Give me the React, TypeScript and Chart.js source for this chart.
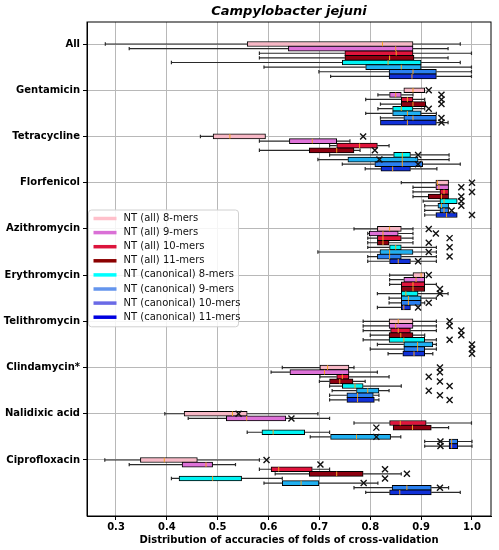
import React, { useEffect, useRef } from 'react';
import { Chart, registerables } from 'chart.js';

Chart.register(...registerables);

const categories = [
  'All', 'Gentamicin', 'Tetracycline', 'Florfenicol', 'Azithromycin',
  'Erythromycin', 'Telithromycin', 'Clindamycin*', 'Nalidixic acid', 'Ciprofloxacin',
];

const seriesNames = [
  'NT (all) 8-mers', 'NT (all) 9-mers', 'NT (all) 10-mers', 'NT (all) 11-mers',
  'NT (canonical) 8-mers', 'NT (canonical) 9-mers', 'NT (canonical) 10-mers', 'NT (canonical) 11-mers',
];

const xTickValues = [0.3, 0.4, 0.5, 0.6, 0.7, 0.8, 0.9, 1.0];

// rows: categories, columns: series
const whiskerLow = [
  [0.279, 0.326, 0.582, 0.582, 0.409, 0.591, 0.699, 0.722],
  [0.866, 0.815, 0.791, 0.820, 0.815, 0.791, 0.820, 0.820],
  [0.466, 0.582, 0.720, 0.582, 0.720, 0.697, 0.745, 0.790],
  [0.861, 0.884, 0.884, 0.884, 0.904, 0.907, 0.907, 0.907],
  [0.768, 0.795, 0.795, 0.795, 0.795, 0.697, 0.795, 0.795],
  [0.838, 0.838, 0.838, 0.861, 0.814, 0.837, 0.837, 0.814],
  [0.786, 0.786, 0.786, 0.800, 0.786, 0.814, 0.800, 0.835],
  [0.627, 0.605, 0.701, 0.700, 0.720, 0.725, 0.720, 0.720],
  [0.396, 0.442, 0.768, 0.845, 0.558, 0.682, 0.907, 0.907],
  [0.278, 0.326, 0.582, 0.613, 0.409, 0.591, 0.768, 0.791],
];

const q1 = [
  [0.558, 0.639, 0.750, 0.750, 0.745, 0.791, 0.837, 0.837],
  [0.866, 0.838, 0.861, 0.861, 0.844, 0.844, 0.866, 0.820],
  [0.491, 0.641, 0.734, 0.680, 0.846, 0.756, 0.809, 0.821],
  [0.929, 0.929, 0.937, 0.914, 0.937, 0.933, 0.937, 0.929],
  [0.814, 0.798, 0.814, 0.814, 0.838, 0.819, 0.814, 0.838],
  [0.884, 0.866, 0.861, 0.861, 0.861, 0.861, 0.861, 0.861],
  [0.837, 0.837, 0.840, 0.837, 0.837, 0.866, 0.866, 0.864],
  [0.701, 0.642, 0.734, 0.720, 0.745, 0.773, 0.754, 0.754],
  [0.434, 0.517, 0.838, 0.845, 0.587, 0.722, 0.955, 0.955],
  [0.348, 0.430, 0.605, 0.680, 0.424, 0.627, 0.843, 0.838],
];

const median = [
  [0.824, 0.850, 0.851, 0.838, 0.835, 0.861, 0.884, 0.882],
  [0.884, 0.850, 0.873, 0.884, 0.861, 0.873, 0.884, 0.873],
  [0.524, 0.686, 0.779, 0.734, 0.863, 0.863, 0.863, 0.844],
  [0.932, 0.935, 0.945, 0.940, 0.945, 0.940, 0.945, 0.950],
  [0.838, 0.825, 0.825, 0.825, 0.850, 0.838, 0.838, 0.855],
  [0.900, 0.890, 0.884, 0.884, 0.870, 0.875, 0.875, 0.866],
  [0.855, 0.850, 0.855, 0.860, 0.866, 0.893, 0.893, 0.886],
  [0.716, 0.710, 0.745, 0.740, 0.770, 0.795, 0.775, 0.775],
  [0.529, 0.557, 0.859, 0.883, 0.609, 0.773, 0.960, 0.960],
  [0.395, 0.477, 0.620, 0.734, 0.490, 0.664, 0.872, 0.858],
];

const q3 = [
  [0.884, 0.884, 0.884, 0.886, 0.900, 0.900, 0.930, 0.930],
  [0.907, 0.861, 0.884, 0.909, 0.884, 0.900, 0.930, 0.930],
  [0.594, 0.734, 0.814, 0.768, 0.879, 0.894, 0.903, 0.879],
  [0.954, 0.954, 0.954, 0.954, 0.971, 0.954, 0.954, 0.971],
  [0.861, 0.855, 0.861, 0.837, 0.861, 0.884, 0.861, 0.879],
  [0.907, 0.907, 0.907, 0.907, 0.894, 0.900, 0.900, 0.879],
  [0.884, 0.884, 0.879, 0.884, 0.907, 0.923, 0.907, 0.907],
  [0.758, 0.758, 0.758, 0.766, 0.786, 0.817, 0.806, 0.808],
  [0.558, 0.634, 0.910, 0.920, 0.671, 0.840, 0.972, 0.972],
  [0.460, 0.490, 0.686, 0.786, 0.547, 0.699, 0.920, 0.920],
];

const whiskerHigh = [
  [0.977, 0.953, 0.999, 0.953, 0.977, 0.999, 0.999, 0.999],
  [0.907, 0.884, 0.907, 0.909, 0.907, 0.930, 0.930, 0.953],
  [0.594, 0.760, 0.837, 0.780, 0.955, 0.955, 0.977, 0.931],
  [0.954, 0.954, 0.954, 0.954, 0.971, 0.954, 0.954, 0.971],
  [0.884, 0.884, 0.884, 0.884, 0.930, 0.930, 0.930, 0.930],
  [0.907, 0.907, 0.930, 0.907, 0.953, 0.930, 0.907, 0.879],
  [0.930, 0.930, 0.930, 0.907, 0.930, 0.930, 0.930, 0.923],
  [0.768, 0.814, 0.837, 0.790, 0.861, 0.837, 0.817, 0.817],
  [0.697, 0.720, 0.999, 0.954, 0.720, 0.860, 1.000, 1.000],
  [0.582, 0.535, 0.720, 0.861, 0.627, 0.815, 0.954, 0.977],
];

const outliers: number[][][] = [
  [[], [], [], [], [], [], [], []],
  [[0.915], [0.94], [0.94], [0.94], [0.915], [], [0.94], [0.94]],
  [[0.786], [], [], [0.809], [0.894], [0.818], [0.894], []],
  [[1.0], [0.979], [1.0], [0.979], [0.979], [0.979], [0.96], [1.0]],
  [[0.915], [0.929], [0.956], [0.915], [0.956], [0.915], [0.956], [0.894]],
  [[0.915], [], [], [0.937], [0.937], [], [0.915], [0.894]],
  [[0.956], [0.956], [0.979], [0.979], [0.956], [1.0], [1.0], [1.0]],
  [[0.937], [0.937], [0.915], [0.937], [0.956], [0.915], [0.937], [0.956]],
  [[0.541], [0.645], [], [0.812], [], [0.812], [0.938], [0.938]],
  [[0.596], [0.702], [0.829], [0.872], [0.829], [0.787], [0.937], []],
];

const boxColors = ['#f7b8c6', '#de72d8', '#e0143c', '#8e0010', '#00f4f4', '#20b0f0', '#2a80f0', '#1030d8'];
const legendColors = ['#ffc0cb', '#da70d6', '#dc143c', '#8b0000', '#00ffff', '#6495ed', '#6a6ae6', '#0000e0'];

const ROW_STEP = 0.1;
const FONT = 'DejaVu Sans';

const boxPlugin = {
  id: 'boxParts',
  beforeDatasetsDraw(chart: any) {
    const { ctx, scales } = chart;
    const xs = scales.x;
    const ys = scales.y;
    ctx.save();
    ctx.strokeStyle = '#2a2a2a';
    ctx.lineWidth = 1.2;
    categories.forEach((_c, c) => {
      seriesNames.forEach((_s, s) => {
        const py = ys.getPixelForValue(c + s * ROW_STEP);
        const lo = whiskerLow[c][s];
        const hi = whiskerHigh[c][s];
        const a = q1[c][s];
        const b = q3[c][s];
        ctx.beginPath();
        if (lo < a) {
          const p = xs.getPixelForValue(lo);
          ctx.moveTo(p, py);
          ctx.lineTo(xs.getPixelForValue(a), py);
          ctx.moveTo(p, py - 1.7);
          ctx.lineTo(p, py + 1.7);
        }
        if (hi > b) {
          const p = xs.getPixelForValue(hi);
          ctx.moveTo(xs.getPixelForValue(b), py);
          ctx.lineTo(p, py);
          ctx.moveTo(p, py - 1.7);
          ctx.lineTo(p, py + 1.7);
        }
        ctx.stroke();
      });
    });
    ctx.restore();
  },
  afterDatasetsDraw(chart: any) {
    const { ctx, scales } = chart;
    const xs = scales.x;
    const ys = scales.y;
    ctx.save();
    categories.forEach((_c, c) => {
      seriesNames.forEach((_s, s) => {
        const py = ys.getPixelForValue(c + s * ROW_STEP);
        const m = xs.getPixelForValue(median[c][s]);
        ctx.strokeStyle = '#f5a020';
        ctx.lineWidth = 1;
        ctx.beginPath();
        ctx.moveTo(m, py - 2.3);
        ctx.lineTo(m, py + 2.3);
        ctx.stroke();
        ctx.strokeStyle = '#111';
        ctx.lineWidth = 1.4;
        outliers[c][s].forEach((v) => {
          const px = xs.getPixelForValue(v);
          const r = 3;
          ctx.beginPath();
          ctx.moveTo(px - r, py - r);
          ctx.lineTo(px + r, py + r);
          ctx.moveTo(px - r, py + r);
          ctx.lineTo(px + r, py - r);
          ctx.stroke();
        });
      });
    });
    ctx.restore();
  },
  afterDraw(chart: any) {
    const { ctx, chartArea } = chart;
    ctx.save();
    ctx.strokeStyle = '#000';
    ctx.lineWidth = 1;
    ctx.strokeRect(chartArea.left, chartArea.top, chartArea.right - chartArea.left, chartArea.bottom - chartArea.top);

    // legend
    const lx = chartArea.left + 1.5;
    const ly = 210;
    const lw = 150;
    const rowH = 14.1;
    const lh = rowH * seriesNames.length + 4;
    ctx.fillStyle = 'rgba(255,255,255,0.85)';
    ctx.strokeStyle = '#d0d0d0';
    ctx.lineWidth = 1;
    ctx.beginPath();
    ctx.roundRect(lx, ly, lw, lh, 3);
    ctx.fill();
    ctx.stroke();
    ctx.font = `10px "${FONT}"`;
    ctx.textBaseline = 'middle';
    ctx.textAlign = 'left';
    seriesNames.forEach((name, s) => {
      const cy = ly + 8.5 + s * rowH;
      ctx.strokeStyle = legendColors[s];
      ctx.lineWidth = 3.5;
      ctx.beginPath();
      ctx.moveTo(lx + 5, cy);
      ctx.lineTo(lx + 28, cy);
      ctx.stroke();
      ctx.fillStyle = '#111';
      ctx.fillText(name, lx + 35, cy);
    });
    ctx.restore();
  },
};

export default function App() {
  const canvasRef = useRef<HTMLCanvasElement | null>(null);

  useEffect(() => {
    if (!canvasRef.current) return;
    const datasets = seriesNames.map((name, s) => ({
      label: name,
      data: categories.map((_c, c) => ({ x: [q1[c][s], q3[c][s]], y: c + s * ROW_STEP })),
      backgroundColor: boxColors[s],
      borderColor: '#000',
      borderWidth: 1,
      borderSkipped: false,
      barThickness: 5,
      grouped: false,
      order: seriesNames.length - s,
    }));

    const chart = new Chart(canvasRef.current, {
      type: 'bar',
      data: { datasets } as any,
      options: {
        indexAxis: 'y',
        animation: false,
        responsive: false,
        layout: { padding: { left: 0, right: 8, top: 0, bottom: 0 } },
        plugins: {
          legend: { display: false },
          tooltip: { enabled: false },
          title: {
            display: true,
            text: 'Campylobacter jejuni',
            fullSize: false,
            color: '#000',
            font: { family: FONT, size: 13, weight: 'bold', style: 'italic' },
            padding: { top: 4, bottom: 2.4 },
          },
        },
        scales: {
          x: {
            type: 'linear',
            min: 0.243,
            max: 1.0374,
            offset: false,
            afterBuildTicks: (scale: any) => {
              scale.ticks = xTickValues.map((v) => ({ value: v }));
            },
            afterFit: (scale: any) => {
              scale.height = 34;
            },
            ticks: {
              color: '#000',
              padding: 1,
              font: { family: FONT, size: 10, weight: 'bold' },
              callback: (v: any) => Number(v).toFixed(1),
            },
            grid: { color: '#b8b8b8', lineWidth: 1, tickColor: '#000', tickLength: 4, offset: false },
            border: { display: true, color: '#000', width: 1 },
            title: {
              display: true,
              text: 'Distribution of accuracies of folds of cross-validation',
              color: '#000',
              font: { family: FONT, size: 10, weight: 'bold' },
              padding: { top: 0, bottom: 4 },
            },
          },
          y: {
            type: 'linear',
            reverse: true,
            min: -0.476,
            max: 10.212,
            offset: false,
            afterBuildTicks: (scale: any) => {
              scale.ticks = categories.map((_c, i) => ({ value: i }));
            },
            afterFit: (scale: any) => {
              scale.width = 87;
            },
            ticks: {
              color: '#000',
              padding: 3,
              autoSkip: false,
              font: { family: FONT, size: 10, weight: 'bold' },
              callback: (v: any) => categories[Math.round(Number(v))],
            },
            grid: { color: '#b8b8b8', lineWidth: 1, tickColor: '#000', tickLength: 4, offset: false },
            border: { display: true, color: '#000', width: 1 },
          },
        },
      } as any,
      plugins: [boxPlugin],
    });
    return () => chart.destroy();
  }, []);

  return (
    <div style={{ position: 'absolute', left: 0, top: 0, width: '499px', height: '550px', background: '#fff' }}>
      <canvas ref={canvasRef} width={499} height={550} style={{ width: '499px', height: '550px', display: 'block' }} />
    </div>
  );
}
